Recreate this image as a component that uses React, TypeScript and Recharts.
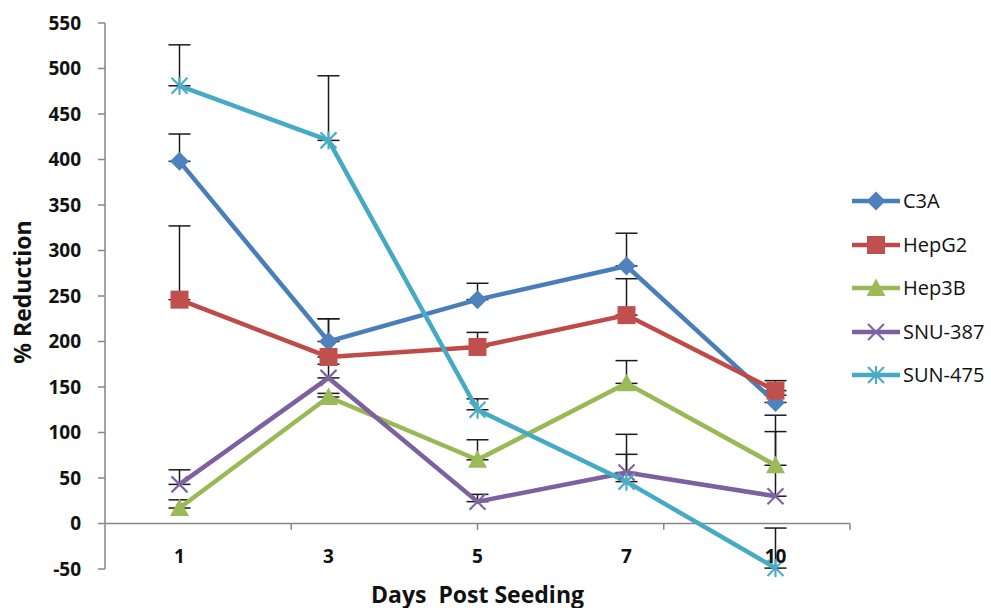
import React from "react";
import {
  LineChart,
  Line,
  XAxis,
  YAxis,
  ErrorBar,
  ReferenceLine,
} from "recharts";

const days = ["1", "3", "5", "7", "10"];

const c3a = [398, 200, 246, 283, 133];
const c3aErr = [30, 25, 18, 36, 8];
const hepG2 = [246, 183, 194, 229, 146];
const hepG2Err = [81, 42, 16, 40, 11];
const hep3B = [17, 139, 70, 154, 64];
const hep3BErr = [9, 4, 22, 25, 37];
const snu387 = [43, 160, 24, 56, 30];
const snu387Err = [16, 15, 8, 42, 89];
const sun475 = [481, 421, 125, 46, -49];
const sun475Err = [45, 71, 12, 30, 44];

const yTicks = [-50, 0, 50, 100, 150, 200, 250, 300, 350, 400, 450, 500, 550];
const bandEdges = [1, 2, 3, 4, 5];

type Shape = "diamond" | "square" | "triangle" | "cross" | "star";

const series: {
  name: string;
  values: number[];
  err: number[];
  line: string;
  fill: string;
  shape: Shape;
}[] = [
  { name: "C3A", values: c3a, err: c3aErr, line: "#4A7EBB", fill: "#4F81BD", shape: "diamond" },
  { name: "HepG2", values: hepG2, err: hepG2Err, line: "#BE4B48", fill: "#C0504D", shape: "square" },
  { name: "Hep3B", values: hep3B, err: hep3BErr, line: "#98B954", fill: "#9BBB59", shape: "triangle" },
  { name: "SNU-387", values: snu387, err: snu387Err, line: "#7D60A0", fill: "#8064A2", shape: "cross" },
  { name: "SUN-475", values: sun475, err: sun475Err, line: "#46AAC5", fill: "#4BACC6", shape: "star" },
];

const data = days.map((day, i) => {
  const row: Record<string, any> = { day };
  series.forEach((s) => {
    row[s.name] = s.values[i];
    row[s.name + "_err"] = [0, s.err[i]];
  });
  return row;
});

const FONT = "'Open Sans', 'Liberation Sans', sans-serif";
const AXIS = "#868686";

function Marker({ cx, cy, shape, color }: { cx: number; cy: number; shape: Shape; color: string }) {
  if (cx == null || cy == null) return null;
  switch (shape) {
    case "diamond":
      return <polygon points={`${cx},${cy - 9.5} ${cx + 9.5},${cy} ${cx},${cy + 9.5} ${cx - 9.5},${cy}`} fill={color} />;
    case "square":
      return <rect x={cx - 9} y={cy - 9} width={18} height={18} fill={color} />;
    case "triangle":
      return <polygon points={`${cx},${cy - 9.5} ${cx + 9.5},${cy + 8} ${cx - 9.5},${cy + 8}`} fill={color} />;
    case "cross":
      return (
        <g stroke={color} strokeWidth={2.2}>
          <line x1={cx - 8} y1={cy - 8} x2={cx + 8} y2={cy + 8} />
          <line x1={cx - 8} y1={cy + 8} x2={cx + 8} y2={cy - 8} />
        </g>
      );
    default:
      return (
        <g stroke={color} strokeWidth={2.2}>
          <line x1={cx - 8} y1={cy - 8} x2={cx + 8} y2={cy + 8} />
          <line x1={cx - 8} y1={cy + 8} x2={cx + 8} y2={cy - 8} />
          <line x1={cx} y1={cy - 9} x2={cx} y2={cy + 9} />
        </g>
      );
  }
}

const XTick = ({ x, y, payload }: any) => (
  <text x={x} y={y} dy={-6} textAnchor="middle" fontFamily={FONT} fontWeight={700} fontSize={19} fill="#111">
    {payload.value}
  </text>
);

export default function App() {
  return (
    <div style={{ position: "absolute", left: 0, top: 0, width: 991, height: 608, background: "#fff", overflow: "hidden" }}>
      <LineChart
        width={991}
        height={608}
        data={data}
        margin={{ top: 23, right: 141, bottom: 0, left: 0 }}
      >
        <XAxis
          xAxisId="cat"
          dataKey="day"
          scale="band"
          height={39}
          axisLine={false}
          tickLine={false}
          tickSize={0}
          tickMargin={0}
          tick={<XTick />}
          interval={0}
        />
        <XAxis xAxisId="num" type="number" domain={[0, 5]} hide />
        <YAxis
          width={105}
          domain={[-50, 550]}
          ticks={yTicks}
          interval={0}
          axisLine={{ stroke: AXIS, strokeWidth: 1.5 }}
          tickLine={{ stroke: AXIS, strokeWidth: 1.5 }}
          tickSize={7}
          tickMargin={17}
          tick={{ fontFamily: FONT, fontWeight: 700, fontSize: 19, fill: "#111" }}
          label={{
            content: ({ viewBox }: any) => {
              const cx = 22;
              const cy = viewBox.y + viewBox.height / 2 - 4;
              return (
                <text
                  x={cx}
                  y={cy}
                  transform={`rotate(-90 ${cx} ${cy})`}
                  textAnchor="middle"
                  dominantBaseline="central"
                  fontFamily={FONT}
                  fontWeight={700}
                  fontSize={23}
                  fill="#111"
                >
                  % Reduction
                </text>
              );
            },
          }}
        />
        <ReferenceLine xAxisId="num" y={0} stroke={AXIS} strokeWidth={1.5} />
        {bandEdges.map((b) => (
          <ReferenceLine
            key={b}
            xAxisId="num"
            segment={[{ x: b, y: 0 }, { x: b, y: -7 }]}
            stroke={AXIS}
            strokeWidth={1.5}
          />
        ))}
        {/* error bars first so the markers sit on top of the lower caps */}
        {series.map((s) => (
          <Line
            key={s.name + "-err"}
            xAxisId="cat"
            dataKey={s.name}
            stroke="none"
            dot={false}
            activeDot={false}
            legendType="none"
            isAnimationActive={false}
          >
            <ErrorBar
              dataKey={s.name + "_err"}
              direction="y"
              width={11}
              stroke="#1a1a1a"
              strokeWidth={1.5}
            />
          </Line>
        ))}
        {series.map((s) => (
          <Line
            key={s.name}
            xAxisId="cat"
            type="linear"
            dataKey={s.name}
            stroke={s.line}
            strokeWidth={4.5}
            isAnimationActive={false}
            activeDot={false}
            dot={(p: any) => (
              <Marker key={`${s.name}-${p.index}`} cx={p.cx} cy={p.cy} shape={s.shape} color={s.fill} />
            )}
          />
        ))}
      </LineChart>
      <div
        style={{
          position: "absolute",
          left: 105,
          width: 745,
          top: 583,
          textAlign: "center",
          fontFamily: FONT,
          fontWeight: 700,
          fontSize: 23,
          lineHeight: "23px",
          color: "#111",
          whiteSpace: "pre",
        }}
      >
        {"Days  Post Seeding"}
      </div>
      <div style={{ position: "absolute", left: 850, top: 190 }}>
        {series.map((s) => (
          <div key={s.name} style={{ display: "flex", alignItems: "center", height: 22, marginBottom: 21.5 }}>
            <svg width={52} height={22}>
              <line x1={2} y1={11} x2={50} y2={11} stroke={s.line} strokeWidth={4.5} />
              <Marker cx={26} cy={11} shape={s.shape} color={s.fill} />
            </svg>
            <span style={{ fontFamily: FONT, fontSize: 20, color: "#111", lineHeight: "22px", marginLeft: 1 }}>
              {s.name}
            </span>
          </div>
        ))}
      </div>
    </div>
  );
}
